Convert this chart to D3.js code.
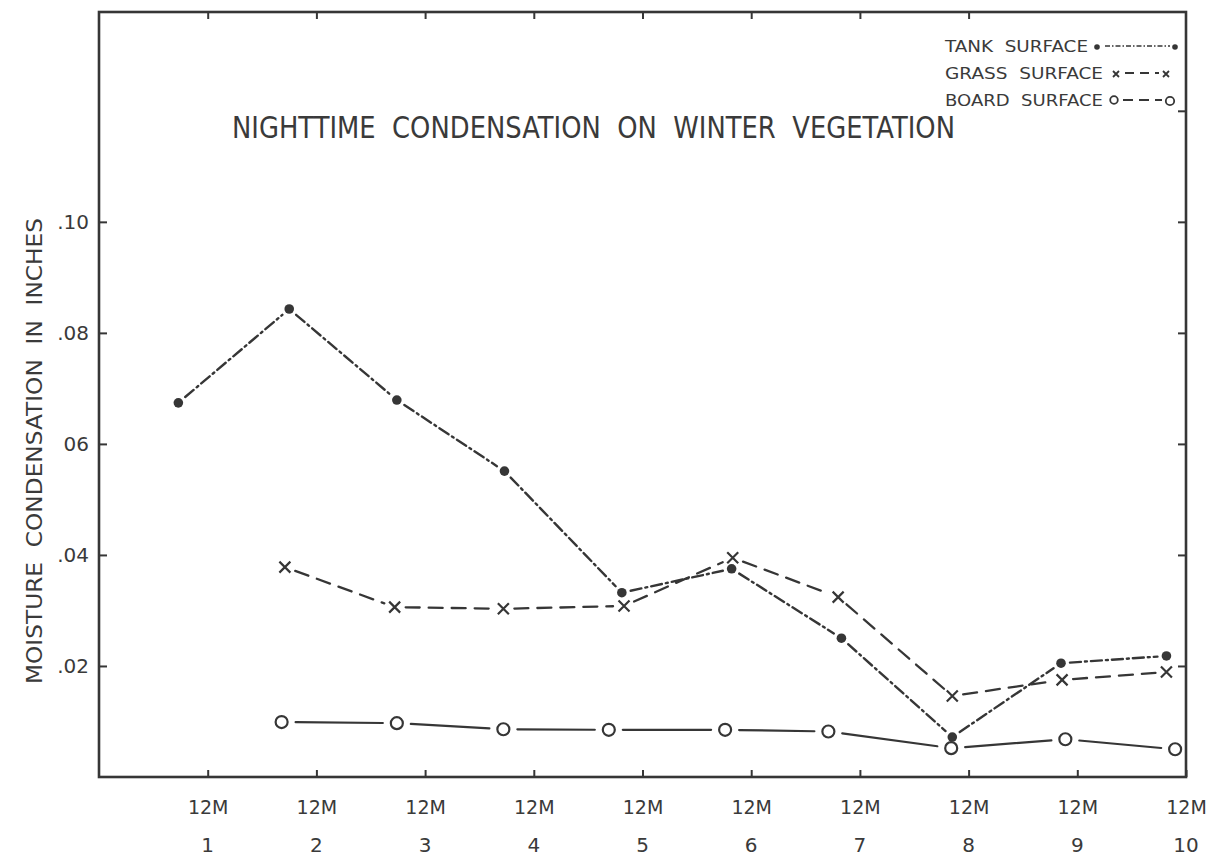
<!DOCTYPE html>
<html>
<head>
<meta charset="utf-8">
<script src="https://cdn.jsdelivr.net/npm/d3@7/dist/d3.min.js"></script>
<style>
  html, body { margin: 0; padding: 0; background: #ffffff; }
  svg { display: block; }
  text { font-family: "DejaVu Sans", "Liberation Sans", sans-serif; fill: #3a3a3a; white-space: pre; }
</style>
</head>
<body>
<svg id="chart" width="1225" height="856"></svg>
<script>
// Nighttime condensation readings (inches), plotted against day of record.
// Readings were taken in the evening, a little before each midnight mark.
const tankDay     = [0.73, 1.75, 2.74, 3.73, 4.81, 5.82, 6.83, 7.85, 8.85, 9.82];
const tankValue   = [0.0674, 0.0843, 0.0679, 0.0551, 0.0332, 0.0375, 0.0250, 0.0072, 0.0205, 0.0218];

const grassDay    = [1.71, 2.72, 3.72, 4.83, 5.83, 6.80, 7.85, 8.86, 9.82];
const grassValue  = [0.0378, 0.0306, 0.0303, 0.0308, 0.0395, 0.0324, 0.0146, 0.0175, 0.0189];

const boardDay    = [1.68, 2.74, 3.72, 4.69, 5.76, 6.71, 7.84, 8.89, 9.90];
const boardValue  = [0.0099, 0.0097, 0.0086, 0.0085, 0.0085, 0.0082, 0.0052, 0.0068, 0.0050];

const dayTicks       = [1, 2, 3, 4, 5, 6, 7, 8, 9, 10];
const dayTickLabels  = ["1", "2", "3", "4", "5", "6", "7", "8", "9", "10"];
const hourLabel      = "12M";
const topTicks       = [1, 2, 3, 4, 5, 6, 7, 8];

const yTicks         = [0.02, 0.04, 0.06, 0.08, 0.10];
const yTickLabels    = [".02", ".04", "06", ".08", ".10"];
const rightTicks     = [0.02, 0.04, 0.06, 0.08, 0.10, 0.12];

const titleText  = "NIGHTTIME  CONDENSATION  ON  WINTER  VEGETATION";
const yAxisTitle = "MOISTURE  CONDENSATION  IN  INCHES";
const legendLabels = ["TANK  SURFACE", "GRASS  SURFACE", "BOARD  SURFACE"];

const ink = "#363636";

const svg = d3.select("#chart");

const x = d3.scaleLinear().domain([0, 10]).range([99, 1186]);
const y = d3.scaleLinear().domain([0, 0.1378]).range([777, 12]);

// Frame
svg.append("rect")
  .attr("x", x(0)).attr("y", y.range()[1])
  .attr("width", x(10) - x(0)).attr("height", y(0) - y.range()[1])
  .attr("fill", "none").attr("stroke", ink).attr("stroke-width", 2.6);

// Axes with inward ticks
function styleAxis(g) {
  g.select(".domain").remove();
  g.selectAll(".tick line").attr("stroke", ink).attr("stroke-width", 2);
  g.selectAll(".tick text").attr("fill", ink).attr("font-family", "DejaVu Sans");
}

svg.append("g")
  .attr("transform", `translate(0,${y(0)})`)
  .call(d3.axisBottom(x).tickValues(dayTicks).tickSizeInner(-7).tickSizeOuter(0)
        .tickPadding(24).tickFormat(() => hourLabel))
  .call(styleAxis)
  .call(g => g.selectAll(".tick text").attr("font-size", 19));

svg.append("g")
  .selectAll("text").data(dayTicks).join("text")
  .attr("x", d => x(d)).attr("y", 852)
  .attr("text-anchor", "middle").attr("font-size", 20)
  .text((d, i) => dayTickLabels[i]);

svg.append("g")
  .attr("transform", `translate(0,${y.range()[1]})`)
  .call(d3.axisTop(x).tickValues(topTicks).tickSizeInner(-7).tickSizeOuter(0).tickFormat(() => ""))
  .call(styleAxis);

svg.append("g")
  .attr("transform", `translate(${x(0)},0)`)
  .call(d3.axisLeft(y).tickValues(yTicks).tickSizeInner(-8).tickSizeOuter(0)
        .tickPadding(10).tickFormat((d, i) => yTickLabels[i]))
  .call(styleAxis)
  .call(g => g.selectAll(".tick text").attr("font-size", 20));

svg.append("g")
  .attr("transform", `translate(${x(10)},0)`)
  .call(d3.axisRight(y).tickValues(rightTicks).tickSizeInner(-8).tickSizeOuter(0).tickFormat(() => ""))
  .call(styleAxis);

// Titles
svg.append("text")
  .attr("x", 232).attr("y", 138)
  .attr("font-size", 30)
  .attr("textLength", 723).attr("lengthAdjust", "spacingAndGlyphs")
  .text(titleText);

svg.append("text")
  .attr("transform", "translate(42,451) rotate(-90)")
  .attr("text-anchor", "middle")
  .attr("font-size", 21)
  .attr("textLength", 466).attr("lengthAdjust", "spacingAndGlyphs")
  .text(yAxisTitle);

// Series drawing: line segments stop short of each marker
function segments(days, values, gap) {
  const pts = days.map((d, i) => [x(d), y(values[i])]);
  const segs = [];
  for (let i = 0; i < pts.length - 1; i++) {
    const [x1, y1] = pts[i], [x2, y2] = pts[i + 1];
    const len = Math.hypot(x2 - x1, y2 - y1);
    const ux = (x2 - x1) / len, uy = (y2 - y1) / len;
    segs.push([x1 + ux * gap, y1 + uy * gap, x2 - ux * gap, y2 - uy * gap]);
  }
  return segs;
}

function drawSegments(g, segs, dash, width) {
  g.selectAll("line.seg").data(segs).join("line")
    .attr("class", "seg")
    .attr("x1", d => d[0]).attr("y1", d => d[1])
    .attr("x2", d => d[2]).attr("y2", d => d[3])
    .attr("stroke", ink).attr("stroke-width", width)
    .attr("stroke-linecap", "round")
    .attr("stroke-dasharray", dash);
}

function dotMarker(g, cx, cy, r) {
  g.append("circle").attr("cx", cx).attr("cy", cy).attr("r", r).attr("fill", ink);
}
function crossMarker(g, cx, cy, s, w) {
  g.append("path")
    .attr("d", `M${cx - s},${cy - s}L${cx + s},${cy + s}M${cx + s},${cy - s}L${cx - s},${cy + s}`)
    .attr("stroke", ink).attr("stroke-width", w || 2).attr("fill", "none");
}
function ringMarker(g, cx, cy, r, w) {
  g.append("circle").attr("cx", cx).attr("cy", cy).attr("r", r)
    .attr("fill", "#fff").attr("stroke", ink).attr("stroke-width", w || 2);
}

const tankDash = "11,4,2,4";
const grassDash = "14,9";

const gTank = svg.append("g");
drawSegments(gTank, segments(tankDay, tankValue, 9), tankDash, 2.4);
tankDay.forEach((d, i) => dotMarker(gTank, x(d), y(tankValue[i]), 4.8));

const gGrass = svg.append("g");
drawSegments(gGrass, segments(grassDay, grassValue, 11), grassDash, 2.3);
grassDay.forEach((d, i) => crossMarker(gGrass, x(d), y(grassValue[i]), 5.5, 2.2));

const gBoard = svg.append("g");
drawSegments(gBoard, segments(boardDay, boardValue, 14), null, 2.2);
boardDay.forEach((d, i) => ringMarker(gBoard, x(d), y(boardValue[i]), 6, 2.2));

// Legend
const legend = svg.append("g");
const legendRows = [52, 79, 106];
const legendWidths = [143, 158, 158];
legendLabels.forEach((t, i) => {
  legend.append("text").attr("x", 945).attr("y", legendRows[i])
    .attr("font-size", 16)
    .attr("textLength", legendWidths[i]).attr("lengthAdjust", "spacingAndGlyphs")
    .text(t);
});
// tank key
dotMarker(legend, 1097, 47, 2.8);
legend.append("line").attr("x1", 1105).attr("y1", 46).attr("x2", 1170).attr("y2", 46)
  .attr("stroke", ink).attr("stroke-width", 1.5).attr("stroke-dasharray", "5,2,1.5,2");
dotMarker(legend, 1175, 47, 2.8);
// grass key
crossMarker(legend, 1116, 74, 3, 1.8);
legend.append("line").attr("x1", 1125).attr("y1", 73).attr("x2", 1159).attr("y2", 73)
  .attr("stroke", ink).attr("stroke-width", 1.8).attr("stroke-dasharray", "9,6");
crossMarker(legend, 1166, 74, 3, 1.8);
// board key
ringMarker(legend, 1114, 100, 3.8, 1.8);
legend.append("line").attr("x1", 1123).attr("y1", 100).attr("x2", 1162).attr("y2", 100)
  .attr("stroke", ink).attr("stroke-width", 1.8).attr("stroke-dasharray", "10,6");
ringMarker(legend, 1170, 101, 4.2, 1.8);
</script>
</body>
</html>
